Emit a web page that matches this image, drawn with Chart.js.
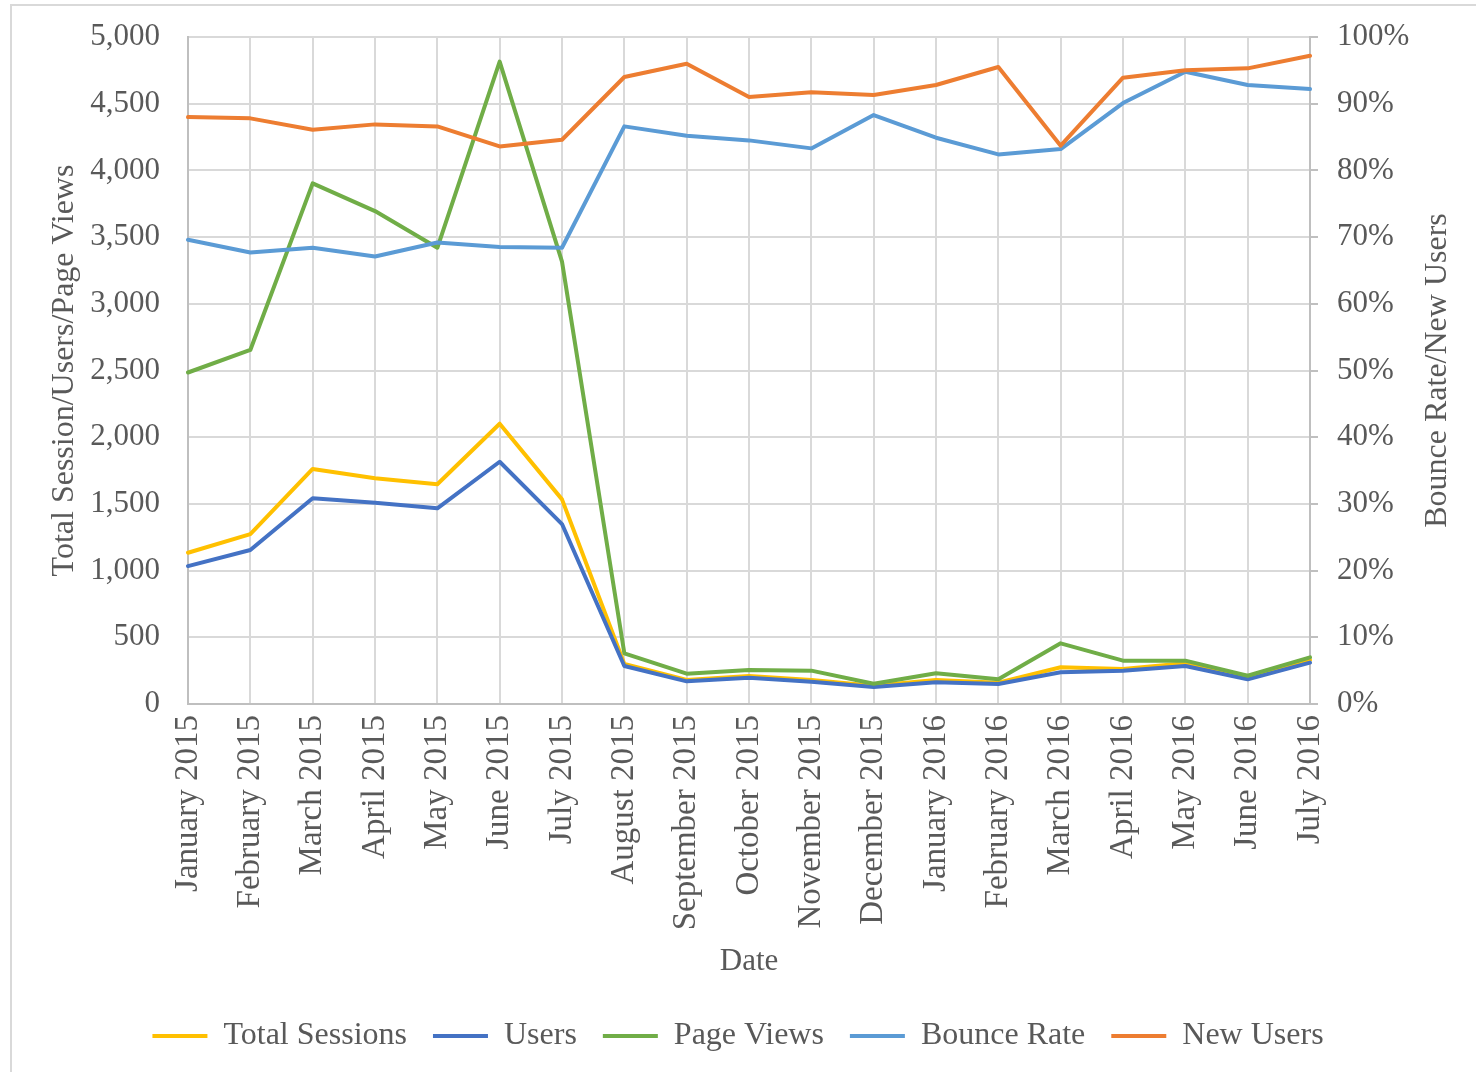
<!DOCTYPE html>
<html>
<head>
<meta charset="utf-8">
<script src="https://cdn.jsdelivr.net/npm/chart.js@4/dist/chart.umd.min.js"></script>
<style>
  html, body { margin: 0; padding: 0; background: #ffffff; }
  #frame { position: absolute; left: 10px; top: 4px; width: 1500px; height: 1100px; border: 2px solid #d9d9d9; box-sizing: border-box; }
  #wrap { position: absolute; left: 0; top: 0; width: 1476px; height: 1072px; }
</style>
</head>
<body>
<div id="frame"></div>
<div id="wrap"><canvas id="chart" width="1476" height="1072"></canvas></div>
<script>
// Monthly site analytics, January 2015 – July 2016
const months = [
  'January 2015', 'February 2015', 'March 2015', 'April 2015', 'May 2015', 'June 2015',
  'July 2015', 'August 2015', 'September 2015', 'October 2015', 'November 2015', 'December 2015',
  'January 2016', 'February 2016', 'March 2016', 'April 2016', 'May 2016', 'June 2016', 'July 2016'
];
const totalSessions = [1134, 1274, 1762, 1692, 1647, 2101, 1534, 300, 180, 210, 180, 137, 180, 160, 275, 262, 305, 205, 330];
const users         = [1034, 1154, 1542, 1509, 1467, 1816, 1349, 285, 170, 197, 167, 127, 163, 150, 238, 250, 285, 185, 310];
const pageViews     = [2485, 2654, 3903, 3695, 3420, 4815, 3316, 380, 227, 255, 250, 152, 230, 185, 455, 325, 325, 212, 350];
// percentages
const bounceRate    = [69.6, 67.7, 68.4, 67.1, 69.2, 68.5, 68.4, 86.6, 85.2, 84.5, 83.3, 88.3, 84.9, 82.4, 83.2, 90.1, 94.8, 92.8, 92.2];
const newUsers      = [88.0, 87.8, 86.1, 86.9, 86.6, 83.6, 84.6, 94.0, 96.0, 91.0, 91.7, 91.3, 92.8, 95.5, 83.7, 93.9, 95.0, 95.3, 97.2];

const leftTicks = { min: 0, max: 5000, step: 500 };
const rightTicks = { min: 0, max: 100, step: 10 };

const FONT = '"Liberation Serif", "Times New Roman", serif';
const TEXT = '#595959';
const GRID = '#d9d9d9';
const AXIS = '#bfbfbf';

function line(label, data, color, axis, order) {
  return {
    label, data, yAxisID: axis, order,
    borderColor: color, backgroundColor: color,
    borderWidth: 4, pointRadius: 0, pointHoverRadius: 0,
    tension: 0, fill: false, borderCapStyle: 'round', borderJoinStyle: 'round'
  };
}

// Secondary axis title, reading bottom-to-top like the primary one
const rightTitle = {
  id: 'rightTitle',
  afterDraw(chart) {
    const { ctx, chartArea } = chart;
    ctx.save();
    ctx.translate(1438, (chartArea.top + chartArea.bottom) / 2);
    ctx.rotate(-Math.PI / 2);
    ctx.font = '32px ' + FONT;
    ctx.fillStyle = TEXT;
    ctx.textAlign = 'center';
    ctx.textBaseline = 'middle';
    ctx.fillText('Bounce Rate/New Users', 0, 0);
    ctx.restore();
  }
};

// keep the wide tick-label gap from pushing the plot area down
function trimVerticalPadding(s) {
  s.paddingTop = 10;
  s.paddingBottom = 10;
}

new Chart(document.getElementById('chart'), {
  type: 'line',
  data: {
    labels: months,
    datasets: [
      line('Total Sessions', totalSessions, '#FFC000', 'y', 5),
      line('Users', users, '#4472C4', 'y', 4),
      line('Page Views', pageViews, '#70AD47', 'y', 3),
      line('Bounce Rate', bounceRate, '#5B9BD5', 'y1', 2),
      line('New Users', newUsers, '#ED7D31', 'y1', 1)
    ]
  },
  options: {
    responsive: false,
    animation: false,
    events: [],
    layout: { padding: { top: 37, left: 0, right: 0, bottom: 10 } },
    plugins: {
      tooltip: { enabled: false },
      legend: {
        position: 'bottom',
        labels: {
          font: { family: FONT, size: 32 },
          color: TEXT,
          boxWidth: 55,
          boxHeight: 4,
          padding: 26,
          sort: (a, b) => a.datasetIndex - b.datasetIndex,
          generateLabels: (chart) =>
            Chart.defaults.plugins.legend.labels.generateLabels(chart).map(l => ({ ...l, lineWidth: 0 }))
        }
      }
    },
    scales: {
      x: {
        offset: false,
        grid: { color: GRID, lineWidth: 2, drawTicks: false },
        border: { color: AXIS, width: 2 },
        ticks: {
          font: { family: FONT, size: 33 }, color: TEXT,
          maxRotation: 90, minRotation: 90, padding: 11, autoSkip: false
        },
        title: {
          display: true, text: 'Date', color: TEXT,
          font: { family: FONT, size: 31 }, padding: { top: 0, bottom: 14 }
        },
        afterFit: (s) => { s.height = 290; }
      },
      y: {
        position: 'left',
        min: leftTicks.min, max: leftTicks.max,
        grid: { color: GRID, lineWidth: 2, drawTicks: false },
        border: { color: AXIS, width: 2 },
        ticks: {
          stepSize: leftTicks.step, font: { family: FONT, size: 31 }, color: TEXT, padding: 28,
          callback: (v) => v.toLocaleString('en-US')
        },
        title: {
          display: true, text: 'Total Session/Users/Page Views', color: TEXT,
          font: { family: FONT, size: 32 }, padding: { top: 45, bottom: 0 }
        },
        afterFit: (s) => { s.width = 188; trimVerticalPadding(s); }
      },
      y1: {
        position: 'right',
        min: rightTicks.min, max: rightTicks.max,
        grid: { drawOnChartArea: false, color: AXIS, lineWidth: 2, drawTicks: true, tickLength: 8 },
        border: { color: AXIS, width: 2 },
        ticks: {
          stepSize: rightTicks.step, font: { family: FONT, size: 31 }, color: TEXT, padding: 19,
          callback: (v) => v + '%'
        },
        afterFit: (s) => { s.width = 166; trimVerticalPadding(s); }
      }
    }
  },
  plugins: [rightTitle]
});
</script>
</body>
</html>
